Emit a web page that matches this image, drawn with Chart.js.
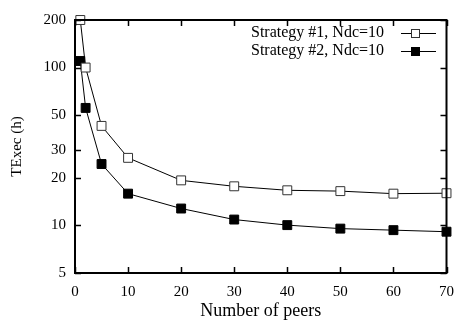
<!DOCTYPE html>
<html>
<head>
<meta charset="utf-8">
<script src="https://cdn.jsdelivr.net/npm/chart.js@4/dist/chart.umd.min.js"></script>
<style>
  html, body { margin: 0; padding: 0; background: #fff; }
  #wrap { width: 464px; height: 320px; }
</style>
</head>
<body>
<div id="wrap"><canvas id="monGraphique" width="464" height="320"></canvas></div>
<script>
// Donnees
const peers = [1, 2, 5, 10, 20, 30, 40, 50, 60, 70];
const strategy1 = [200, 100, 42.7, 26.8, 19.3, 17.7, 16.7, 16.5, 15.9, 16.0];
const strategy2 = [110, 55.5, 24.5, 15.9, 12.8, 10.9, 10.05, 9.55, 9.34, 9.13];
const labels = ['Strategy #1, Ndc=10', 'Strategy #2, Ndc=10'];
const yTicks = [5, 10, 20, 30, 50, 100, 200];
const xTicks = [0, 10, 20, 30, 40, 50, 60, 70];

const serif = "'Liberation Serif', 'Times New Roman', serif";

// Cadre, graduations interieures et legende facon gnuplot
const cadrePlugin = {
    id: 'cadre',
    afterDatasetsDraw(chart) {
        const ctx = chart.ctx;
        const a = chart.chartArea;
        const x = chart.scales.x;
        const y = chart.scales.y;
        ctx.save();
        ctx.strokeStyle = '#000';
        ctx.lineWidth = 1.5;
        ctx.beginPath();
        xTicks.forEach(function(v) {
            const px = Math.round(x.getPixelForValue(v)) + 0.5;
            ctx.moveTo(px, a.bottom); ctx.lineTo(px, a.bottom - 6);
            ctx.moveTo(px, a.top); ctx.lineTo(px, a.top + 6);
        });
        yTicks.forEach(function(v) {
            const py = Math.round(y.getPixelForValue(v)) + 0.5;
            ctx.moveTo(a.left, py); ctx.lineTo(a.left + 6, py);
            ctx.moveTo(a.right, py); ctx.lineTo(a.right - 6, py);
        });
        ctx.stroke();
        ctx.lineWidth = 2;
        ctx.strokeRect(a.left, a.top, a.right - a.left, a.bottom - a.top);

        // legende
        ctx.font = '16px ' + serif;
        ctx.textAlign = 'right';
        ctx.textBaseline = 'middle';
        ctx.fillStyle = '#000';
        chart.data.datasets.forEach(function(ds, i) {
            const ly = 33 + i * 18;
            ctx.fillText(ds.label, 384, ly);
            ctx.lineWidth = 1;
            ctx.strokeStyle = '#000';
            ctx.beginPath();
            ctx.moveTo(401, ly + 0.5); ctx.lineTo(436, ly + 0.5);
            ctx.stroke();
            ctx.fillStyle = ds.pointBackgroundColor;
            ctx.fillRect(411, ly - 4, 9, 9);
            ctx.strokeStyle = ds.pointBorderColor;
            ctx.strokeRect(411.5, ly - 3.5, 8, 8);
            ctx.fillStyle = '#000';
        });
        ctx.restore();
    }
};

document.addEventListener('DOMContentLoaded', function() {
    const ctx = document.getElementById('monGraphique').getContext('2d');
    new Chart(ctx, {
        type: 'line',
        data: {
            labels: peers,
            datasets: [{
                label: labels[0],
                data: peers.map((p, i) => ({ x: p, y: strategy1[i] })),
                borderColor: '#000',
                borderWidth: 1,
                pointStyle: 'rect',
                pointRadius: 6.3,
                pointBackgroundColor: '#fff',
                pointBorderColor: '#333',
                pointBorderWidth: 1,
                clip: false
            }, {
                label: labels[1],
                data: peers.map((p, i) => ({ x: p, y: strategy2[i] })),
                borderColor: '#000',
                borderWidth: 1,
                pointStyle: 'rect',
                pointRadius: 6.3,
                pointBackgroundColor: '#000',
                pointBorderColor: '#000',
                pointBorderWidth: 1,
                clip: false
            }]
        },
        options: {
            responsive: false,
            animation: false,
            layout: { padding: { top: 20, right: 8, left: 0, bottom: 0 } },
            plugins: {
                legend: { display: false },
                tooltip: { enabled: false }
            },
            scales: {
                x: {
                    type: 'linear',
                    min: 0,
                    max: 70,
                    afterFit: function(s) { s.height = 47; },
                    afterBuildTicks: function(s) { s.ticks = xTicks.map(v => ({ value: v })); },
                    grid: { display: false, drawTicks: false },
                    border: { display: false },
                    ticks: {
                        padding: 10,
                        color: '#000',
                        font: { family: serif, size: 15 },
                        maxRotation: 0
                    },
                    title: {
                        display: true,
                        text: 'Number of peers',
                        color: '#000',
                        font: { family: serif, size: 18 },
                        padding: { top: 0, bottom: -2 }
                    }
                },
                y: {
                    type: 'logarithmic',
                    min: 5,
                    max: 200,
                    afterFit: function(s) { s.width = 75; },
                    afterBuildTicks: function(s) { s.ticks = yTicks.map(v => ({ value: v })); },
                    grid: { display: false, drawTicks: false },
                    border: { display: false },
                    ticks: {
                        padding: 9,
                        color: '#000',
                        font: { family: serif, size: 15 },
                        callback: function(value) { return String(value); }
                    },
                    title: {
                        display: true,
                        text: 'TExec (h)',
                        color: '#000',
                        font: { family: serif, size: 15 },
                        padding: { top: 8, bottom: 0 }
                    }
                }
            }
        },
        plugins: [cadrePlugin]
    });
});
</script>
</body>
</html>
